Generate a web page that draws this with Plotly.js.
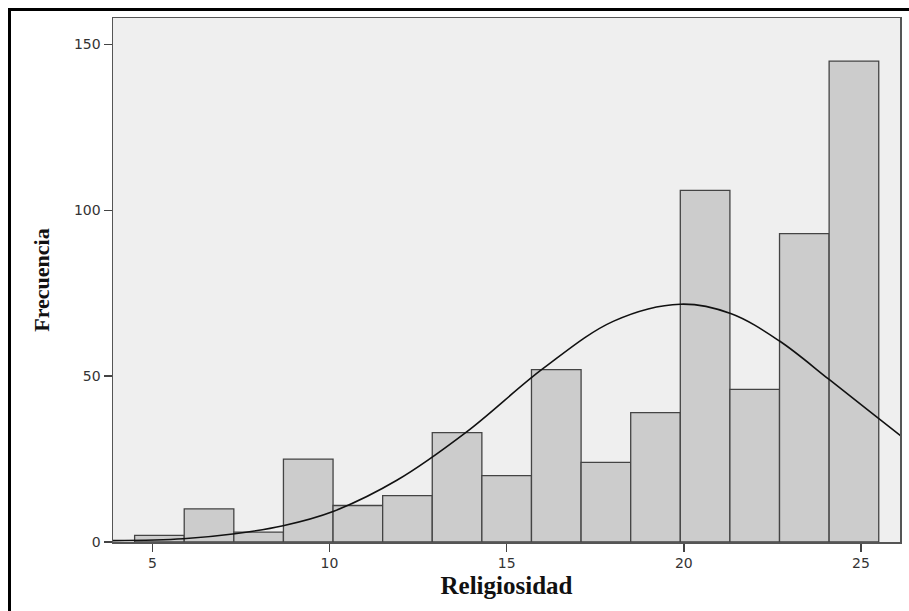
<!DOCTYPE html>
<html>
<head>
<meta charset="utf-8">
<script src="https://cdn.plot.ly/plotly-3.0.1.min.js"></script>
<style>
  html, body { margin: 0; padding: 0; background: #ffffff; }
  #wrap { position: relative; width: 909px; height: 611px; overflow: hidden; }
  #chart { position: absolute; left: 0; top: 0; width: 909px; height: 611px; }
  #frame { position: absolute; left: 8px; top: 8px; width: 920px; height: 620px;
           border-top: 3.5px solid #000; border-left: 3.5px solid #000; pointer-events: none; }
</style>
</head>
<body>
<div id="wrap">
  <div id="chart"></div>
  <div id="frame"></div>
</div>
<script>
// Histogram bins (centres) and frequencies
const binCenters = [5.2, 6.6, 8.0, 9.4, 10.8, 12.2, 13.6, 15.0, 16.4, 17.8, 19.2, 20.6, 22.0, 23.4, 24.8];
const binWidth = 1.4;
const frequencies = [2, 10, 3, 25, 11, 14, 33, 20, 52, 24, 39, 106, 46, 93, 145];

// Normal curve points
const curveX = [3.89, 5.87, 7.33, 8.69, 10.10, 11.90, 13.87, 16.04, 18.02, 19.90, 21.32, 22.70, 24.10, 25.18, 26.12];
const curveY = [0.4, 1.0, 2.5, 4.9, 9.2, 18.6, 33.2, 52.4, 66.6, 71.7, 68.9, 60.6, 49.0, 39.9, 32.0];

// Axis labels
const xTitle = "Religiosidad";
const yTitle = "Frecuencia";
const xTicks = [5, 10, 15, 20, 25];
const yTicks = [0, 50, 100, 150];

const bars = {
  type: "bar",
  x: binCenters,
  y: frequencies,
  width: binCenters.map(() => binWidth),
  marker: { color: "#cccccc", line: { color: "#444444", width: 1.3 } },
  hoverinfo: "x+y",
  showlegend: false
};

const curve = {
  type: "scatter",
  mode: "lines",
  x: curveX,
  y: curveY,
  line: { color: "#111111", width: 1.6, shape: "spline", smoothing: 1.0 },
  hoverinfo: "skip",
  showlegend: false
};

const layout = {
  width: 909,
  height: 611,
  margin: { l: 113, r: 9, t: 18, b: 69 },
  paper_bgcolor: "#ffffff",
  plot_bgcolor: "#efefef",
  bargap: 0,
  xaxis: {
    range: [3.89, 26.1],
    tickvals: xTicks,
    ticktext: xTicks.map(String),
    ticks: "outside",
    ticklen: 8,
    tickwidth: 1.5,
    tickcolor: "#444444",
    showgrid: false,
    zeroline: false,
    showline: true,
    linecolor: "#555555",
    linewidth: 1.5,
    mirror: true,
    tickfont: { family: "DejaVu Sans", size: 14, color: "#333333" },
    title: { text: xTitle, standoff: 6,
             font: { family: "Liberation Serif", size: 25, color: "#111111", weight: "bold" } }
  },
  yaxis: {
    range: [0, 158],
    tickvals: yTicks,
    ticktext: yTicks.map(String),
    ticks: "outside",
    ticklen: 8,
    tickwidth: 1.5,
    tickcolor: "#444444",
    showgrid: false,
    zeroline: false,
    showline: true,
    linecolor: "#555555",
    linewidth: 1.5,
    mirror: true,
    tickfont: { family: "DejaVu Sans", size: 14, color: "#333333" },
    title: { text: yTitle, standoff: 18,
             font: { family: "Liberation Serif", size: 22, color: "#111111", weight: "bold" } }
  }
};

Plotly.newPlot("chart", [bars, curve], layout, { displayModeBar: false, staticPlot: true });
</script>
</body>
</html>
